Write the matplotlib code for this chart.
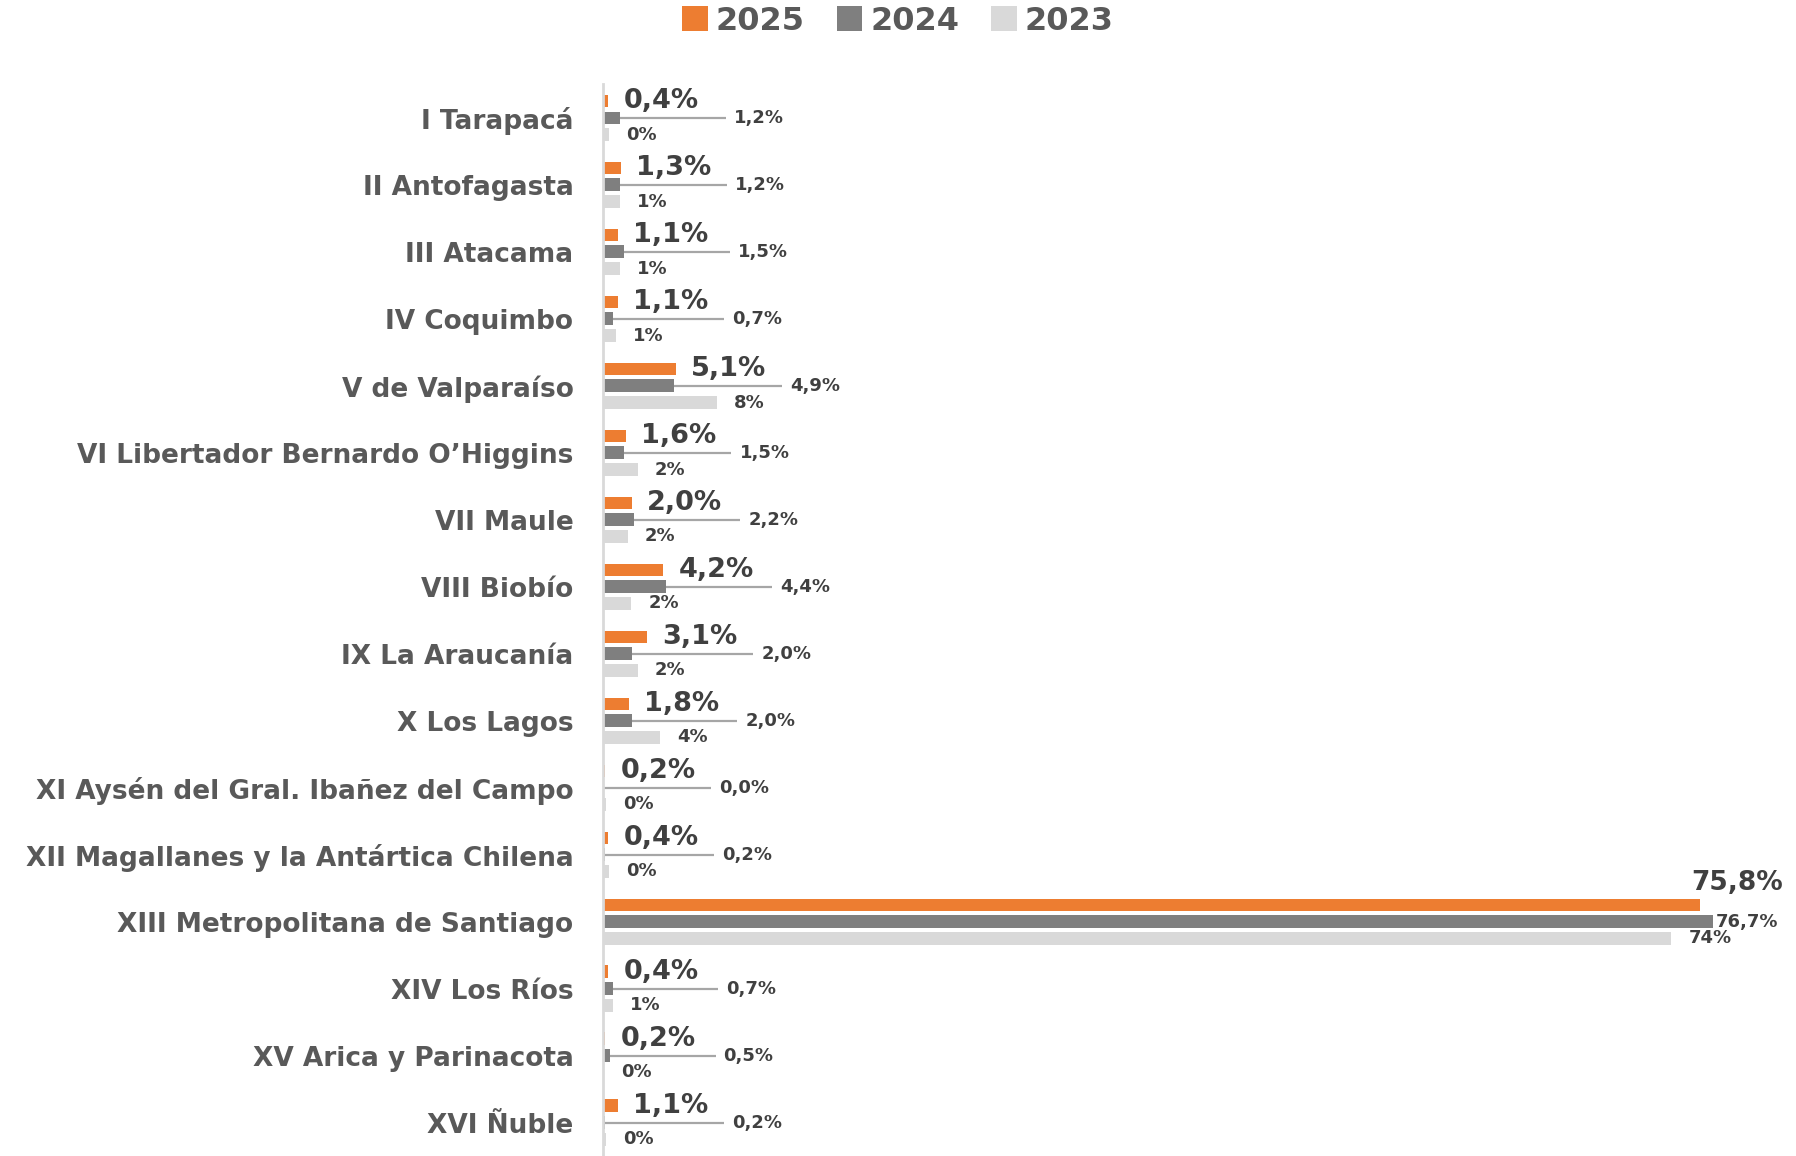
import matplotlib
matplotlib.use("Agg")
import matplotlib.pyplot as plt
import numpy as np

regiones = [
    "I Tarapacá", "II Antofagasta", "III Atacama", "IV Coquimbo",
    "V de Valparaíso", "VI Libertador Bernardo O’Higgins", "VII Maule",
    "VIII Biobío", "IX La Araucanía", "X Los Lagos",
    "XI Aysén del Gral. Ibañez del Campo",
    "XII Magallanes y la Antártica Chilena",
    "XIII Metropolitana de Santiago", "XIV Los Ríos",
    "XV Arica y Parinacota", "XVI Ñuble",
]
v2025 = [0.4, 1.3, 1.1, 1.1, 5.1, 1.6, 2.0, 4.2, 3.1, 1.8, 0.2, 0.4, 75.8, 0.4, 0.2, 1.1]
v2024 = [1.2, 1.2, 1.5, 0.7, 4.9, 1.5, 2.2, 4.4, 2.0, 2.0, 0.0, 0.2, 76.7, 0.7, 0.5, 0.2]
v2023 = [0.45, 1.2, 1.2, 0.95, 7.9, 2.45, 1.75, 1.98, 2.45, 3.95, 0.24, 0.47, 73.8, 0.71, 0.1, 0.24]

c25 = "#ed7d31"
c24 = "#7f7f7f"
c23 = "#d9d9d9"
txt = "#404040"
lab = "#595959"

plt.rcParams["font.family"] = ["DejaVu Sans"]
plt.rcParams["font.weight"] = "bold"

fig = plt.figure(figsize=(17.96, 11.56), dpi=100)
ax = fig.add_axes([0.3355, -0.007, 0.6645, 0.934])

y = np.arange(len(regiones))
h = 0.19
d = 0.25
b25 = ax.barh(y - d, v2025, height=h, color=c25, label="2025")
b24 = ax.barh(y, v2024, height=h, color=c24, label="2024")
b23 = ax.barh(y + d, v2023, height=h, color=c23, label="2023")

ax.set_xlim(0, 82.4)
ax.set_ylim(len(regiones) - 0.5 + 0.12, -0.5)

def fmt(v, dec=1):
    s = f"{v:.{dec}f}".replace(".", ",")
    return s + "%"

px = 1.0 / 14.49  # data units per pixel

for i in range(len(regiones)):
    a, b, c = v2025[i], v2024[i], v2023[i]
    if a > 50:
        ax.text(a + 72 * 1.1454 * px, i - d - 0.33, fmt(a), ha="right", va="center",
                fontsize=19, color=txt, fontweight="bold")
        ax.text(b + 2 * px, i, fmt(b), ha="left", va="center",
                fontsize=13, color=txt, fontweight="bold")
    else:
        ax.text(a + 15 * px, i - d, fmt(a), ha="left", va="center",
                fontsize=19.5, color=txt, fontweight="bold")
        fin = max(a, b) + 7.3
        ax.plot([b, fin], [i, i], color="#a6a6a6", lw=1.6, solid_capstyle="butt")
        ax.text(fin + 8 * px, i, fmt(b), ha="left", va="center",
                fontsize=13, color=txt, fontweight="bold")
    ax.text(c + 17 * px, i + d, fmt(c, 0), ha="left", va="center",
            fontsize=13, color=txt, fontweight="bold")

ax.set_yticks(y)
ax.set_yticklabels(regiones, fontsize=19, color=lab, fontweight="bold")
ax.tick_params(axis="y", length=0, pad=21)
ax.set_xticks([])
for s in ["top", "right", "bottom"]:
    ax.spines[s].set_visible(False)
ax.spines["left"].set_color(c23)
ax.spines["left"].set_linewidth(2)

leg = fig.legend(handles=[b25, b24, b23], loc="upper center", bbox_to_anchor=(0.5, 1.02),
                 ncol=3, frameon=False, fontsize=23, handlelength=0.8, handleheight=0.8,
                 handletextpad=0.25, columnspacing=1.0)
for t in leg.get_texts():
    t.set_color(lab)
    t.set_fontweight("bold")

fig.savefig("out.png", dpi=100)
